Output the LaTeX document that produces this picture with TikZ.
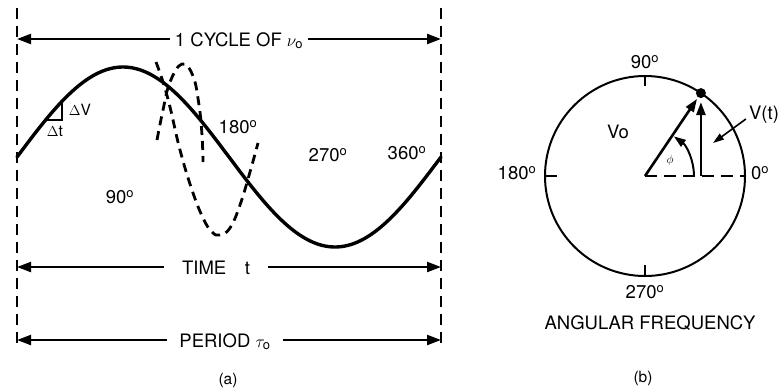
\documentclass[tikz,border=0pt]{standalone}
\usepackage{fontspec}
\setmainfont{TeX Gyre Heros}
\usetikzlibrary{arrows.meta,positioning,calc}

\tikzset{
  guide/.style={line width=1.6pt, dash pattern=on 11pt off 7pt},
  dimrow/.style={line width=2.2pt, -{Triangle[length=14pt,width=10pt]}},
  wave/.style={line width=3.4pt, line cap=round},
  fastwave/.style={line width=2.8pt, dash pattern=on 9pt off 6pt},
  vec/.style={line width=2.6pt, -{Triangle[length=13pt,width=9pt]}},
  lbl/.style={font=\fontsize{18.5}{20}\selectfont, inner sep=1pt},
  smalltxt/.style={font=\fontsize{15.5}{17}\selectfont, inner sep=1pt},
}

\begin{document}
\begin{tikzpicture}[x=1pt, y=-1pt]
  \useasboundingbox (0,0) rectangle (783,388);
  % (a) one cycle of the wave
  \begin{scope}
    \coordinate (lt) at (17,8);  \coordinate (lb) at (17,350);
    \coordinate (rt) at (441,8); \coordinate (rb) at (441,350);
    \draw[guide] (lt) -- (lb);
    \draw[guide] (rt) -- (rb);
    % dimension rows
    \coordinate (cycL) at (17,39);   \coordinate (cycR) at (441,39);
    \coordinate (timL) at (17,267);  \coordinate (timR) at (441,267);
    \coordinate (perL) at (17,340);  \coordinate (perR) at (441,340);
    \node[lbl, anchor=base, inner xsep=5pt] (cycle) at (239,46) {1 CYCLE OF $\nu_{\mathrm{o}}$};
    \node[lbl, anchor=base, inner xsep=18pt] (time) at (216,274) {TIME\quad t};
    \node[lbl, anchor=base, inner xsep=12pt] (period) at (225,347) {PERIOD $\tau_{\mathrm{o}}$};
    \draw[dimrow] (cycle.west |- cycL) -- (cycL);
    \draw[dimrow] (cycle.east |- cycR) -- (cycR);
    \draw[dimrow] (time.west |- timL) -- (timL);
    \draw[dimrow] (time.east |- timR) -- (timR);
    \draw[dimrow] (period.west |- perL) -- (perL);
    \draw[dimrow] (period.east |- perR) -- (perR);
    % the slow wave
    \draw[wave] plot[domain=17:441, samples=90, smooth] (\x, {157-90*sin(0.84906*(\x-17))});
    \draw[line width=1.6pt] (45,120) -- (62,120) -- (62,103);
    \node[smalltxt] (dv) at (80,110) {$\Delta$V};
    \node[smalltxt] (dt) at (55,131) {$\Delta$t};
    % the fast wave
    \draw[fastwave] plot[smooth, tension=0.7] coordinates
      {(157,140) (163,110) (170,82) (182,64) (193,76) (199,105) (202,135) (203,162)};
    \draw[fastwave] plot[smooth, tension=0.7] coordinates
      {(156,62) (163,82) (170,107) (180,150) (192,190) (203,218) (212,232) (220,235)
       (230,228) (240,205) (250,172) (258,143)};
    % phase labels
    \node[lbl] (a90) at (120,197) {90\textsuperscript{o}};
    \node[lbl] (a180) at (238,127) {180\textsuperscript{o}};
    \node[lbl] (a270) at (328,155) {270\textsuperscript{o}};
    \node[lbl] (a360) at (407,153) {360\textsuperscript{o}};
    \node[smalltxt] (capA) at (228,380) {(a)};
  \end{scope}
  % (b) rotating vector
  \begin{scope}
    \coordinate (ctr) at (645,176);
    \draw[line width=2pt] (ctr) circle[radius=100pt];
    \draw[line width=1.8pt] ($(ctr)+(0,-100)$) -- ++(0,10);
    \draw[line width=1.8pt] ($(ctr)+(-100,0)$) -- ++(12,0);
    \draw[line width=1.8pt] ($(ctr)+(0,100)$) -- ++(0,-11);
    \draw[line width=2.6pt, dash pattern=on 12pt off 7pt] (ctr) -- ($(ctr)+(100,0)$);
    \coordinate (tip) at ($(ctr)+(56:100pt)$);
    \coordinate (foot) at (ctr -| tip);
    \fill (tip) circle[radius=5pt];
    \draw[vec, shorten >=7pt] (ctr) -- (tip);
    \draw[vec] (foot) -- ($(tip)+(0,9)$);
    \draw[line width=2pt, -{Triangle[length=12pt,width=8pt]}]
      ($(ctr)+(49pt,0)$) arc[start angle=0, end angle=54, radius=49pt];
    \node[font=\fontsize{12}{13}\selectfont] (phi) at (670,160) {$\phi$};
    \node[lbl] (vo) at (618,132) {Vo};
    \node[lbl] (vt) at (764,115) {V(t)};
    \coordinate (vtto) at (713,143);
    \draw[line width=1.6pt, -{Triangle[length=11pt,width=7pt]}] ($(vt.west)+(-2,4)$) -- (vtto);
    \node[lbl] (b90) at (645,62) {90\textsuperscript{o}};
    \node[lbl] (b180) at (517,173) {180\textsuperscript{o}};
    \node[lbl] (b270) at (645,292) {270\textsuperscript{o}};
    \node[lbl] (b0) at (760,173) {0\textsuperscript{o}};
    \node[lbl] (angf) at (650,323) {ANGULAR FREQUENCY};
    \node[smalltxt] (capB) at (643,378) {(b)};
  \end{scope}
\end{tikzpicture}
\end{document}
